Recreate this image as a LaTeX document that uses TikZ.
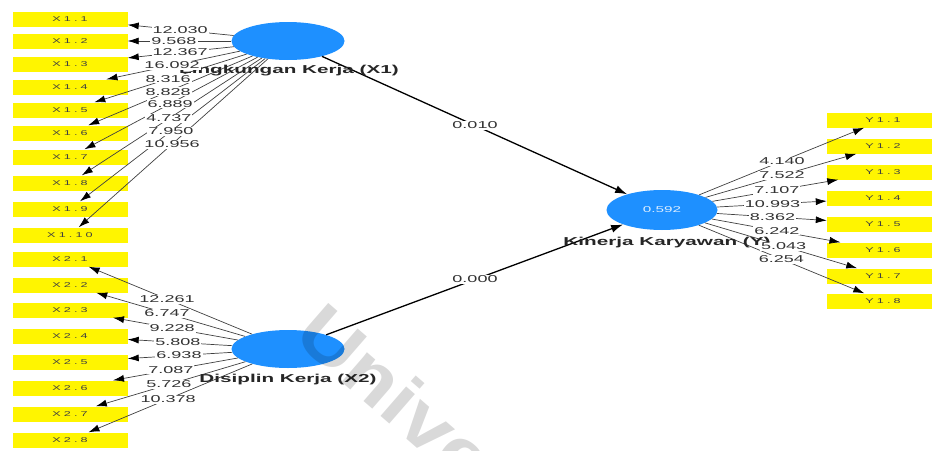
\documentclass[tikz,border=0pt]{standalone}
\usepackage{fontspec}
\setmainfont{Liberation Sans}
\newfontfamily\numf[FakeStretch=1.8]{Liberation Sans}
\newfontfamily\boxf[FakeStretch=1.8,LetterSpace=45]{Liberation Sans}
\newfontfamily\wmf[FakeStretch=1.15]{Liberation Sans}
\usetikzlibrary{arrows.meta,calc,shapes.geometric}
\definecolor{lvblue}{RGB}{30,144,255}
\definecolor{mvyellow}{RGB}{255,245,0}
\begin{document}
\begin{tikzpicture}[x=1pt,y=-1pt,
  mv/.style={fill=mvyellow, minimum width=115pt, minimum height=15pt, inner sep=0pt,
    font=\boxf\fontsize{7}{8}\selectfont, text=black!75},
  mvr/.style={mv, minimum width=112pt},
  lv/.style={ellipse, fill=lvblue, minimum width=113pt, minimum height=38pt, inner sep=0pt},
  outer/.style={draw=black!75, line width=0.7pt, -{Latex[length=11pt,width=7pt,fill=black,color=black]}},
  innerp/.style={draw=black, line width=1.3pt, -{Latex[length=12pt,width=8pt]}},
  wl/.style={fill=white, inner sep=1pt, font=\numf\fontsize{10}{11}\selectfont, text=black!80},
  lvname/.style={font=\numf\bfseries\fontsize{11.5}{12}\selectfont, text=black!85}
]
\useasboundingbox (0,0) rectangle (932,450);
\clip (0,0) rectangle (932,450);

% latent variables
\node[lv] (X1) at (288,41) {};
\node[lv] (X2) at (288,349) {};
\node[lv, minimum width=111pt, minimum height=40pt, text=white!85!lvblue,
  font=\numf\fontsize{8.5}{9}\selectfont] (Y) at (662,210) {0.592};

% indicators
\foreach \i/\yy in {1/19,2/41,3/64,4/87,5/110,6/133,7/157,8/183,9/209,10/235}
  \node[mv] (x1-\i) at (70,\yy) {X1.\i};
\foreach \i/\yy in {1/259,2/285,3/310,4/336,5/362,6/388,7/414,8/440}
  \node[mv] (x2-\i) at (70,\yy) {X2.\i};
\foreach \i/\yy in {1/120,2/146,3/172,4/198,5/224,6/250,7/276,8/301}
  \node[mvr] (y-\i) at (883,\yy) {Y1.\i};

% outer edges
\foreach \i in {1,...,10} \draw[outer] (X1) -- (x1-\i);
\foreach \i in {1,...,8} \draw[outer] (X2) -- (x2-\i);
\foreach \i in {1,...,8} \draw[outer] (Y) -- (y-\i);

% inner edges
\draw[innerp] (X1) -- (Y);
\draw[innerp] (X2) -- (Y);

% latent names
\node[lvname] (X1n) at (289,71) {Lingkungan Kerja (X1)};
\node[lvname] (X2n) at (288,380) {Disiplin Kerja (X2)};
\node[lvname] (Yn) at (667,243) {Kinerja Karyawan (Y)};

% edge labels
\foreach \i/\f/\v in {1/0.495/12.030,2/0.523/9.568,3/0.495/12.367,4/0.532/16.092,
  5/0.55/8.316,6/0.55/8.828,7/0.541/6.889,8/0.546/4.737,9/0.537/7.950,10/0.532/10.956}
  \node[wl] (l1-\i) at ($(X1.center)!\f!(x1-\i.center)$) {\v};
\foreach \i/\f/\v in {1/0.555/12.261,2/0.555/6.747,3/0.532/9.228,4/0.505/5.808,
  5/0.5/6.938,6/0.537/7.087,7/0.546/5.726,8/0.55/10.378}
  \node[wl] (l2-\i) at ($(X2.center)!\f!(x2-\i.center)$) {\v};
\foreach \i/\f/\v in {1/0.543/4.140,2/0.543/7.522,3/0.52/7.107,4/0.50/10.993,
  5/0.50/8.362,6/0.52/6.242,7/0.55/5.043,8/0.54/6.254}
  \node[wl] (l3-\i) at ($(Y.center)!\f!(y-\i.center)$) {\v};
\node[wl] (p1) at ($(X1.center)!0.5!(Y.center)$) {0.010};
\node[wl] (p2) at ($(X2.center)!0.5!(Y.center)$) {0.000};

% watermark
\node[rotate=-41, anchor=west, text=black, opacity=0.15,
  font=\wmf\bfseries\fontsize{74}{74}\selectfont] (wm) at (306,316) {Univer};
\end{tikzpicture}
\end{document}
